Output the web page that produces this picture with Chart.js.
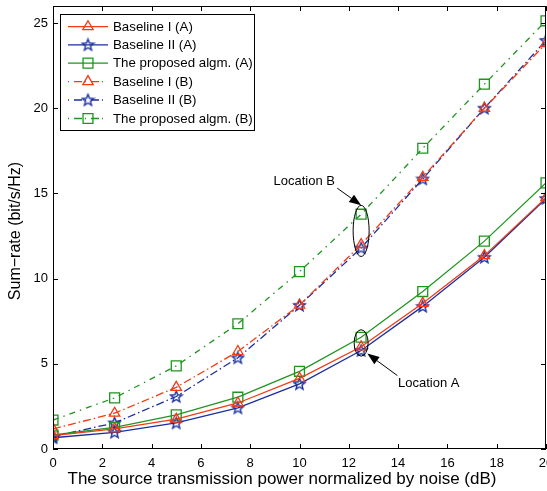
<!DOCTYPE html>
<html>
<head>
<meta charset="utf-8">
<script src="https://cdn.jsdelivr.net/npm/chart.js@4/dist/chart.umd.min.js"></script>
<style>
  html, body { margin: 0; padding: 0; background: #fff; overflow: hidden; }
  canvas { display: block; }
</style>
</head>
<body>
<canvas id="chart" width="547" height="491"></canvas>
<script>
// power (dB) on x axis
const powerDb = [0, 2.5, 5, 7.5, 10, 12.5, 15, 17.5, 20];

// sum-rate (bit/s/Hz), location A
const baseline1A = [0.78, 1.18, 1.75, 2.7, 4.15, 6.0, 8.55, 11.35, 14.75];
const baseline2A = [0.66, 0.98, 1.53, 2.41, 3.82, 5.78, 8.37, 11.25, 14.7];
const proposedA  = [0.82, 1.27, 2.0, 3.04, 4.56, 6.56, 9.24, 12.2, 15.62];

// sum-rate (bit/s/Hz), location B
const baseline1B = [1.18, 2.1, 3.62, 5.72, 8.45, 12.0, 15.95, 20.0, 23.8];
const baseline2B = [0.74, 1.53, 3.08, 5.35, 8.43, 11.8, 15.85, 20.0, 23.98];
const proposedB  = [1.7, 3.0, 4.88, 7.35, 10.41, 13.78, 17.65, 21.41, 25.13];

const seriesNames = [
  "Baseline I (A)", "Baseline II (A)", "The proposed algm. (A)",
  "Baseline I (B)", "Baseline II (B)", "The proposed algm. (B)"
];

const xTicks = [0, 2, 4, 6, 8, 10, 12, 14, 16, 18, 20];
const yTicks = [0, 5, 10, 15, 20, 25];

const RED = "#f23a14";
const BLUE = "#1a2f9e";
const GREEN = "#1f951f";
const FONT = "'Liberation Sans', Arial, Helvetica, sans-serif";

// 5 point star marker (Chart.js "star" is an asterisk)
function makeStar(color) {
  const c = document.createElement("canvas");
  c.width = 15; c.height = 15;
  const g = c.getContext("2d");
  g.strokeStyle = color;
  g.lineWidth = 1.4;
  g.beginPath();
  for (let i = 0; i < 10; i++) {
    const r = i % 2 === 0 ? 6 : 2.6;
    const a = -Math.PI / 2 + i * Math.PI / 5;
    const px = 7.5 + r * Math.cos(a), py = 7.9 + r * Math.sin(a);
    if (i === 0) g.moveTo(px, py); else g.lineTo(px, py);
  }
  g.closePath();
  g.stroke();
  return c;
}
const starBlue = makeStar(BLUE);

const styles = [
  { color: RED, point: "triangle", radius: 6, dash: [] },
  { color: BLUE, point: starBlue, radius: 6, dash: [] },
  { color: GREEN, point: "rect", radius: 7, dash: [] },
  { color: RED, point: "triangle", radius: 6, dash: [8, 3, 1.5, 3] },
  { color: BLUE, point: starBlue, radius: 6, dash: [8, 3, 1.5, 3] },
  { color: GREEN, point: "rect", radius: 7, dash: [6, 5, 1.5, 5] }
];
const allSeries = [baseline1A, baseline2A, proposedA, baseline1B, baseline2B, proposedB];

const datasets = allSeries.map((vals, i) => ({
  label: seriesNames[i],
  data: vals.map((v, k) => ({ x: powerDb[k], y: v })),
  borderColor: styles[i].color,
  borderWidth: 1.3,
  borderDash: styles[i].dash,
  pointStyle: styles[i].point,
  pointRadius: styles[i].radius,
  pointBorderColor: styles[i].color,
  pointBackgroundColor: "rgba(0,0,0,0)",
  pointBorderWidth: 1.3,
  fill: false,
  tension: 0
}));

function arrow(ctx, x1, y1, x2, y2) {
  const ang = Math.atan2(y2 - y1, x2 - x1);
  const len = 12, half = 4.5;
  const bx = x2 - len * Math.cos(ang), by = y2 - len * Math.sin(ang);
  ctx.beginPath();
  ctx.moveTo(x1, y1);
  ctx.lineTo(bx, by);
  ctx.stroke();
  ctx.beginPath();
  ctx.moveTo(x2, y2);
  ctx.lineTo(bx + half * Math.sin(ang), by - half * Math.cos(ang));
  ctx.lineTo(bx - half * Math.sin(ang), by + half * Math.cos(ang));
  ctx.closePath();
  ctx.fill();
}

const decorations = {
  id: "decorations",
  afterDraw(chart) {
    const ctx = chart.ctx;
    const { left, right, top, bottom } = chart.chartArea;
    const xs = chart.scales.x, ys = chart.scales.y;
    ctx.save();

    // box + inward ticks
    ctx.strokeStyle = "#000";
    ctx.lineWidth = 1;
    ctx.setLineDash([]);
    ctx.strokeRect(left + 0.5, top + 0.5, right - left - 1, bottom - top - 1);
    ctx.beginPath();
    xTicks.forEach(v => {
      const px = Math.round(xs.getPixelForValue(v)) + 0.5;
      ctx.moveTo(px, bottom); ctx.lineTo(px, bottom - 5);
      ctx.moveTo(px, top); ctx.lineTo(px, top + 5);
    });
    yTicks.forEach(v => {
      const py = Math.round(ys.getPixelForValue(v)) + 0.5;
      ctx.moveTo(left, py); ctx.lineTo(left + 5, py);
      ctx.moveTo(right, py); ctx.lineTo(right - 5, py);
    });
    ctx.stroke();

    // axis titles
    ctx.fillStyle = "#000";
    ctx.font = "17px " + FONT;
    ctx.textAlign = "center";
    ctx.textBaseline = "middle";
    ctx.fillText("The source transmission power normalized by noise (dB)", 282, 479);
    ctx.save();
    ctx.translate(16, 231);
    ctx.rotate(-Math.PI / 2);
    ctx.font = "16px " + FONT;
    ctx.fillText("Sum\u2212rate (bit/s/Hz)", 0, 0);
    ctx.restore();

    // location annotations
    const cx = xs.getPixelForValue(12.5);
    ctx.lineWidth = 1;
    ctx.beginPath();
    const bTop = ys.getPixelForValue(14.3), bBot = ys.getPixelForValue(11.3);
    ctx.ellipse(cx, (bTop + bBot) / 2, 8, (bBot - bTop) / 2, 0, 0, Math.PI * 2);
    ctx.stroke();
    ctx.beginPath();
    const aTop = ys.getPixelForValue(7.0), aBot = ys.getPixelForValue(5.45);
    ctx.ellipse(cx, (aTop + aBot) / 2, 7, (aBot - aTop) / 2, 0, 0, Math.PI * 2);
    ctx.stroke();

    arrow(ctx, xs.getPixelForValue(11.53), ys.getPixelForValue(15.31),
               xs.getPixelForValue(12.5), ys.getPixelForValue(14.3));
    arrow(ctx, xs.getPixelForValue(13.97), ys.getPixelForValue(4.31),
               xs.getPixelForValue(12.75), ys.getPixelForValue(5.6));

    ctx.font = "13px " + FONT;
    ctx.textAlign = "right";
    ctx.fillText("Location B", 335, 181);
    ctx.textAlign = "left";
    ctx.fillText("Location A", 398, 383);

    // legend
    ctx.fillStyle = "#fff";
    ctx.fillRect(60.5, 14.5, 194, 116);
    ctx.strokeStyle = "#000";
    ctx.strokeRect(60.5, 14.5, 194, 116);
    const rowY = [26.7, 44.8, 63.1, 81.6, 100, 118.5];
    styles.forEach((s, i) => {
      const y = rowY[i];
      ctx.strokeStyle = s.color;
      ctx.lineWidth = 1.3;
      ctx.setLineDash(s.dash.length ? [1, 5, 8, 3] : []);
      ctx.beginPath();
      ctx.moveTo(68, y); ctx.lineTo(108, y);
      ctx.stroke();
      ctx.setLineDash([]);
      ctx.fillStyle = "rgba(0,0,0,0)";
      Chart.helpers.drawPoint(ctx, { pointStyle: s.point, radius: s.radius, rotation: 0, borderWidth: 1.3 }, 88, y);
      ctx.fillStyle = "#000";
      ctx.font = "13.3px " + FONT;
      ctx.textAlign = "left";
      ctx.textBaseline = "middle";
      ctx.fillText(seriesNames[i], 113, y + 0.5);
    });
    ctx.restore();
  }
};

new Chart(document.getElementById("chart"), {
  type: "line",
  data: { datasets },
  options: {
    responsive: false,
    animation: false,
    devicePixelRatio: 1,
    layout: { autoPadding: false, padding: { top: 6, right: 1, left: 0, bottom: 0 } },
    plugins: { legend: { display: false }, tooltip: { enabled: false } },
    scales: {
      x: {
        type: "linear",
        min: 0, max: 20,
        grid: { display: false, drawTicks: false, tickLength: 0 },
        border: { display: false },
        ticks: { stepSize: 2, padding: 7, color: "#000", font: { size: 13, family: FONT }, maxRotation: 0 },
        afterBuildTicks: s => { s.ticks = xTicks.map(v => ({ value: v })); },
        afterFit: s => { s.height = 42; s.paddingLeft = 0; s.paddingRight = 0; }
      },
      y: {
        min: 0, max: 26,
        grid: { display: false, drawTicks: false, tickLength: 0 },
        border: { display: false },
        ticks: { stepSize: 5, padding: 5, color: "#000", font: { size: 13, family: FONT } },
        afterBuildTicks: s => { s.ticks = yTicks.map(v => ({ value: v })); },
        afterFit: s => { s.width = 53; s.paddingTop = 0; s.paddingBottom = 0; }
      }
    }
  },
  plugins: [decorations]
});
</script>
</body>
</html>
